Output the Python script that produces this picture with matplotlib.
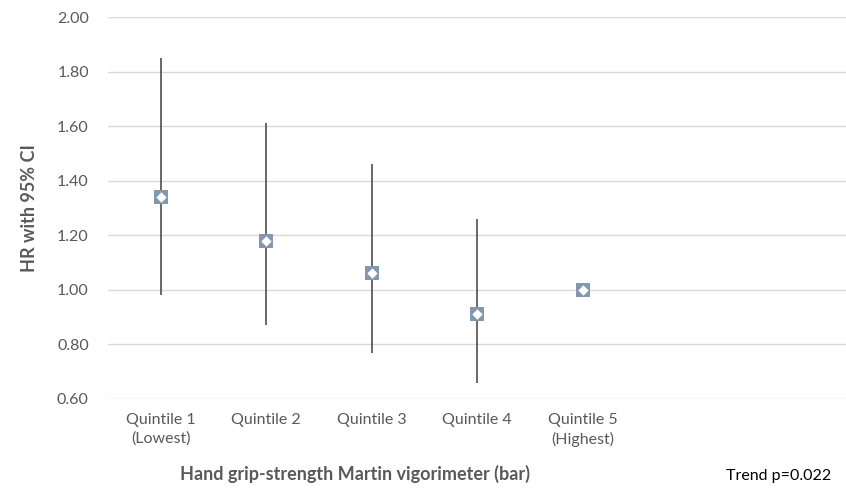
import matplotlib
matplotlib.use("Agg")
import matplotlib.pyplot as plt

# data
labels = ["Quintile 1\n(Lowest)", "Quintile 2", "Quintile 3", "Quintile 4", "Quintile 5\n(Highest)"]
hr = [1.34, 1.18, 1.06, 0.91, 1.00]
ci_low = [0.98, 0.87, 0.77, 0.66, 1.00]
ci_high = [1.85, 1.61, 1.46, 1.26, 1.00]

plt.rcParams['font.family'] = ['Lato', 'DejaVu Sans']

fig = plt.figure(figsize=(8.46, 4.9), dpi=100)
ax = fig.add_axes([0.128, 0.186, 0.872, 0.779])

x = list(range(len(hr)))
grey = "#595959"

for gy in [0.6, 0.8, 1.0, 1.2, 1.4, 1.6, 1.8, 2.0]:
    ax.axhline(gy, color="#D9D9D9", lw=1, zorder=0)

# CI whiskers
ax.vlines(x, ci_low, ci_high, color="#404040", lw=1.1, zorder=2)

# markers: blue-grey square with white diamond
ax.scatter(x, hr, marker="s", s=95, color="#8497B0", zorder=3, linewidths=0)
ax.scatter(x, hr, marker="D", s=28, color="white", zorder=4, linewidths=0)

ax.set_xlim(-0.5, 6.5)
ax.set_ylim(0.6, 2.0)
ax.set_yticks([0.6, 0.8, 1.0, 1.2, 1.4, 1.6, 1.8, 2.0])
ax.set_yticklabels(["%.2f" % v for v in [0.6, 0.8, 1.0, 1.2, 1.4, 1.6, 1.8, 2.0]])
ax.set_xticks(x)
ax.set_xticklabels(labels, linespacing=1.45)

for s in ax.spines.values():
    s.set_visible(False)
ax.tick_params(axis="both", length=0, colors=grey, labelsize=11.5)
ax.tick_params(axis="y", pad=14)
ax.tick_params(axis="x", pad=10)

ax.set_ylabel("HR with 95% CI", fontsize=13, fontweight="bold", color=grey, labelpad=14)
fig.text(0.42, 0.014, "Hand grip-strength Martin vigorimeter (bar)", ha="center",
         va="bottom", fontsize=13, fontweight="bold", color=grey)
fig.text(0.982, 0.02, "Trend p=0.022", ha="right", fontsize=11.5, color="black")

fig.savefig("out.png", dpi=100)
